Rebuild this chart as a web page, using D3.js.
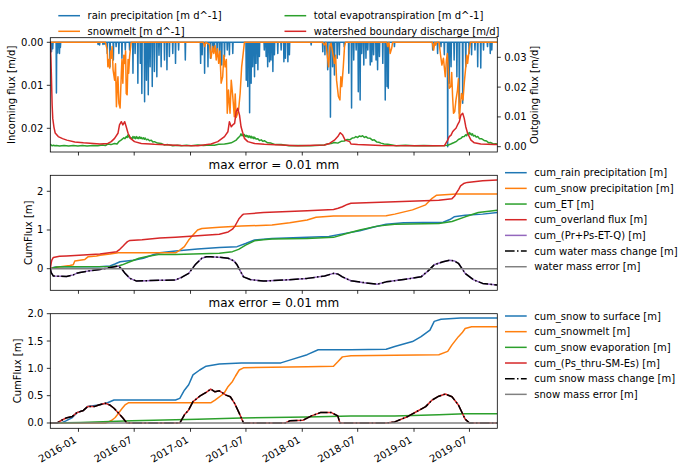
<!DOCTYPE html>
<html><head><meta charset="utf-8">
<script src="https://cdn.jsdelivr.net/npm/d3@7"></script>
<style>body{margin:0;background:#fff}svg{display:block;font-family:"DejaVu Sans",sans-serif}</style>
</head><body><svg id="c" width="687" height="472"></svg>
<script>
// day offsets from 2015-10-01
const startDate = "2015-10-01", endDay = 1460;
const rainEvents = [[4,0.0022],[8,0.0015],[20,0.0118],[24,0.0025],[30,0.0026],[33,0.0012],[156,0.0005],[161,0.0006],[172,0.0005],[177,0.0004],[186,0.0026],[195,0.0057],[206,0.0041],[215,0.001],[224,0.0026],[234,0.0037],[245,0.0018],[259,0.0018],[270,0.0072],[277,0.0026],[286,0.0095],[294,0.0049],[299,0.0119],[308,0.0138],[314,0.0088],[320,0.0122],[326,0.0057],[333,0.0103],[340,0.0068],[348,0.008],[355,0.003],[362,0.0057],[373,0.0041],[381,0.0064],[389,0.0033],[400,0.0026],[409,0.0049],[419,0.0018],[441,0.0041],
[491,0.0049],[496,0.0029],[504,0.0072],[515,0.0057],[523,0.0037],[531,0.0022],[536,0.0018],[545,0.0029],[553,0.0041],[560,0.0053],[569,0.0033],[578,0.0018],[585,0.0029],[596,0.0026],[640,0.0088],[645,0.0103],[651,0.0164],[656,0.0095],[661,0.0057],[667,0.008],[672,0.0049],[678,0.0064],[683,0.0033],[699,0.0018],[705,0.0033],[710,0.0057],[716,0.0045],[721,0.0041],[727,0.0068],[732,0.0029],[743,0.0026],[754,0.0018],[763,0.0045],[768,0.0037],[776,0.0045],[781,0.0029],[852,0.0006],[890,0.0022],[897,0.0029],[906,0.0064],[915,0.0174],[922,0.0057],[928,0.0076],[937,0.0037],[944,0.0029],[960,0.001],
[975,0.0072],[984,0.0153],[991,0.0041],[999,0.0018],[1006,0.0115],[1012,0.0134],[1017,0.0026],[1024,0.0053],[1031,0.0037],[1037,0.0018],[1045,0.0053],[1050,0.0045],[1056,0.0029],[1064,0.0041],[1069,0.0064],[1075,0.0033],[1086,0.0049],[1094,0.0134],[1100,0.0103],[1104,0.0107],[1124,0.001],[1249,0.0018],[1256,0.0006],[1265,0.0026],[1276,0.001],[1287,0.0029],[1298,0.0243],[1303,0.0095],[1309,0.0057],[1319,0.0041],[1328,0.008],[1336,0.0165],[1347,0.0142],[1357,0.0057],[1368,0.0026],[1376,0.0029],[1387,0.0018],[1396,0.0057],[1406,0.006],[1415,0.0018],[1428,0.001],[1437,0.0026],[1442,0.0018]];
const snowmeltFlux = [[0,0],[180,0],[186,0.0018],[188,0.0057],[191,0.004],[194,0.006],[197,0.002],[199,0.0037],[202,0.001],[205,0.0064],[210,0.0088],[213,0.005],[216,0.015],[219,0.0095],[221,0.008],[224,0.0142],[228,0.0153],[232,0.0072],[234,0.004],[237,0.0095],[240,0.003],[243,0.0049],[246,0.002],[248,0.0119],[251,0.0122],[254,0.004],[256,0.0072],[259,0.0033],[264,0],
[500,0],[504,0.001],[508,0],[520,0.0005],[525,0.0037],[530,0.001],[534,0.0026],[538,0.0008],[542,0.0041],[546,0.0015],[550,0.0049],[554,0.002],[558,0.0095],[563,0.008],[567,0.003],[571,0.0057],[575,0.004],[578,0.0165],[582,0.0111],[587,0.0165],[591,0.0088],[596,0.0126],[601,0.0173],[604,0.012],[607,0.0175],[610,0.0169],[615,0.0157],[620,0.0119],[625,0.0057],[630,0.0026],[634,0],
[890,0],[895,0.0006],[900,0],[904,0.0026],[909,0.0057],[913,0.001],[917,0.0002],[922,0.0022],[928,0.0049],[932,0.003],[935,0.0088],[941,0.0126],[946,0.0134],[949,0.008],[952,0.0103],[957,0.0057],[961,0.001],[964,0],
[1099,0],[1102,0.001],[1106,0],[1110,0.0026],[1115,0.0014],[1118,0],
[1248,0],[1252,0.0018],[1256,0],[1259,0.0006],[1262,0],[1270,0],[1274,0.0026],[1279,0.0053],[1284,0.0037],[1290,0.008],[1294,0.004],[1297,0.0026],[1303,0.0107],[1308,0.0103],[1311,0.007],[1314,0.0126],[1317,0.0165],[1321,0.0161],[1325,0.0134],[1330,0.0111],[1333,0.0085],[1336,0.0177],[1339,0.015],[1343,0.0119],[1348,0.0134],[1352,0.0095],[1357,0.0057],[1360,0.003],[1363,0.0049],[1368,0.0018],[1372,0],[1460,0]];
const etFlux = [[0,0.0009],[3,0.0005],[6,0.0003],[10,0.0005],[15,0.0003],[20,0.0004],[30,0.0002],[45,0.0004],[60,0.0002],[75,0.0004],[90,0.0002],[105,0.0004],[120,0.0002],[140,0.0004],[155,0.0003],[170,0.0006],[180,0.0004],[188,0.0009],[198,0.0007],[210,0.0011],[218,0.0009],[225,0.0018],[231,0.0022],[236,0.0026],[240,0.003],[244,0.0027],[248,0.0034],[251,0.0031],[253,0.0039],[256,0.0033],[258,0.0036],[261,0.0028],[264,0.003],[267,0.0026],[270,0.0034],[273,0.0029],[275,0.0033],[278,0.0027],[281,0.0034],[284,0.0028],[286,0.0032],[289,0.0027],[292,0.0033],[295,0.0028],[297,0.0031],[300,0.0026],[304,0.003],[307,0.0025],[310,0.0029],[314,0.0023],[319,0.0025],[324,0.002],[330,0.0022],[335,0.0016],[340,0.0017],[350,0.0012],[362,0.0011],[372,0.0006],[384,0.0007],[400,0.0003],[415,0.0005],[428,0.0003],[445,0.0005],[460,0.0003],[482,0.0006],[500,0.0004],[520,0.0006],[536,0.0005],[550,0.0008],[569,0.0009],[580,0.0011],[591,0.0013],[600,0.0018],[607,0.0022],[612,0.0028],[618,0.0034],[621,0.0038],[623,0.0043],[626,0.0037],[629,0.004],[631,0.0035],[634,0.0041],[637,0.0034],[640,0.0038],[643,0.0033],[645,0.0037],[648,0.0031],[651,0.0036],[654,0.003],[656,0.0035],[659,0.0029],[662,0.0033],[665,0.0027],[667,0.0032],[672,0.0026],[678,0.0027],[683,0.0021],[689,0.0023],[694,0.0018],[699,0.002],[710,0.0013],[721,0.0012],[735,0.0007],[754,0.0007],[780,0.0003],[808,0.0004],[850,0.0003],[880,0.0005],[895,0.0006],[905,0.0009],[917,0.0011],[928,0.0014],[939,0.0012],[950,0.0018],[960,0.0019],[970,0.0024],[978,0.0023],[986,0.0029],[993,0.003],[998,0.0034],[1004,0.0031],[1009,0.0036],[1015,0.0034],[1020,0.0037],[1026,0.0031],[1031,0.0034],[1037,0.0029],[1045,0.0028],[1052,0.0022],[1058,0.0023],[1066,0.0016],[1073,0.0015],[1080,0.0012],[1090,0.0009],[1102,0.0008],[1130,0.0003],[1160,0.0005],[1189,0.0003],[1220,0.0004],[1250,0.0003],[1287,0.0004],[1298,0.0005],[1308,0.0009],[1319,0.0014],[1327,0.0018],[1333,0.0024],[1341,0.0028],[1346,0.0033],[1352,0.0034],[1357,0.004],[1360,0.0037],[1363,0.0044],[1366,0.0041],[1368,0.0048],[1371,0.0042],[1373,0.0045],[1376,0.0039],[1379,0.0043],[1382,0.0036],[1387,0.0038],[1391,0.0032],[1396,0.0034],[1402,0.0027],[1408,0.0027],[1417,0.0021],[1425,0.0019],[1432,0.0013],[1439,0.0014],[1447,0.0009],[1455,0.001],[1460,0.0008]];
const dischargeFlux = [[0,0.0352],[2,0.03],[4,0.022],[6,0.014],[8,0.0095],[12,0.0065],[16,0.0046],[26,0.0034],[40,0.0027],[54,0.0022],[80,0.0016],[108,0.0013],[162,0.0009],[188,0.0011],[199,0.0017],[210,0.0028],[221,0.0045],[226,0.0073],[232,0.0084],[237,0.0073],[243,0.0084],[248,0.0067],[254,0.0045],[262,0.0028],[275,0.0017],[297,0.0011],[340,0.0008],[428,0.0004],[482,0.0003],[525,0.0009],[547,0.0017],[569,0.0034],[580,0.005],[585,0.0084],[591,0.0067],[596,0.0073],[602,0.0078],[607,0.0117],[612,0.0129],[618,0.0106],[623,0.0067],[629,0.0045],[634,0.0028],[645,0.0017],[667,0.0011],[699,0.0008],[808,0.0003],[895,0.0006],[912,0.0011],[928,0.0022],[939,0.0034],[947,0.0047],[955,0.0039],[963,0.0022],[978,0.0017],[982,0.0009],[1004,0.0007],[1080,0.0004],[1189,0.0003],[1287,0.0003],[1298,0.0022],[1303,0.0034],[1309,0.0039],[1314,0.005],[1319,0.0056],[1325,0.0062],[1330,0.0073],[1336,0.0084],[1341,0.0106],[1347,0.0112],[1352,0.0095],[1357,0.0067],[1363,0.0045],[1374,0.0022],[1385,0.0013],[1406,0.0009],[1450,0.0007],[1460,0.0007]];

const cumRain = [[0,0],[10,0.03],[21,0.05],[160,0.05],[195,0.07],[211,0.12],[228,0.18],[271,0.22],[304,0.27],[336,0.36],[358,0.41],[409,0.46],[481,0.51],[552,0.55],[610,0.57],[638,0.65],[667,0.74],[724,0.78],[839,0.81],[910,0.83],[954,0.9],[1011,0.98],[1054,1.07],[1097,1.15],[1154,1.19],[1283,1.2],[1305,1.27],[1319,1.34],[1355,1.38],[1412,1.41],[1460,1.45]];
const cumSnowP = [[0,0],[10,0.02],[21,0.035],[64,0.08],[75,0.1],[80,0.2],[113,0.24],[124,0.31],[151,0.33],[162,0.35],[195,0.38],[222,0.41],[409,0.41],[423,0.48],[438,0.57],[452,0.74],[466,0.87],[481,1.0],[495,1.04],[552,1.07],[624,1.1],[724,1.13],[782,1.19],[839,1.26],[868,1.33],[925,1.36],[1097,1.37],[1125,1.41],[1183,1.52],[1226,1.65],[1247,1.82],[1262,1.9],[1326,1.93],[1460,1.93]];
const cumET = [[0,0],[15,0.03],[30,0.05],[200,0.06],[222,0.07],[235,0.1],[260,0.18],[290,0.27],[320,0.32],[358,0.37],[409,0.37],[552,0.4],[595,0.44],[615,0.5],[638,0.61],[667,0.72],[695,0.75],[724,0.77],[839,0.78],[925,0.81],[968,0.91],[1011,1.0],[1068,1.1],[1125,1.15],[1269,1.17],[1312,1.22],[1355,1.34],[1398,1.45],[1460,1.51]];
const cumOverland = [[0,0],[3,0.15],[5,0.22],[10,0.29],[30,0.32],[53,0.33],[162,0.38],[217,0.44],[227,0.5],[237,0.58],[244,0.64],[252,0.7],[260,0.73],[300,0.75],[358,0.79],[409,0.81],[481,0.85],[552,0.89],[581,0.95],[595,1.02],[603,1.1],[610,1.2],[617,1.3],[625,1.37],[631,1.41],[696,1.45],[839,1.5],[925,1.53],[940,1.56],[954,1.6],[970,1.66],[982,1.69],[1126,1.73],[1269,1.77],[1312,1.81],[1320,1.87],[1326,1.95],[1334,2.05],[1340,2.14],[1350,2.2],[1362,2.23],[1412,2.27],[1460,2.29]];
const cumWaterChange = [[0,0],[3,-0.1],[10,-0.19],[53,-0.2],[75,-0.16],[86,-0.12],[97,-0.1],[130,-0.05],[162,-0.02],[195,0.03],[222,0.07],[233,0],[244,-0.12],[260,-0.25],[282,-0.32],[315,-0.31],[358,-0.3],[409,-0.29],[430,-0.22],[452,-0.12],[473,0.1],[495,0.27],[510,0.31],[524,0.31],[560,0.29],[581,0.27],[600,0.2],[610,0.1],[620,-0.05],[631,-0.21],[653,-0.28],[696,-0.32],[767,-0.29],[839,-0.25],[896,-0.19],[925,-0.12],[940,-0.14],[954,-0.21],[982,-0.31],[1025,-0.36],[1068,-0.4],[1097,-0.34],[1154,-0.28],[1211,-0.21],[1235,-0.05],[1254,0.1],[1283,0.18],[1305,0.22],[1320,0.2],[1333,0.14],[1345,0.0],[1355,-0.12],[1383,-0.29],[1412,-0.38],[1460,-0.42]];
const waterError = [[0,0],[1460,0]];

const cumSnowSurface = [[0,0],[36,0],[51,0.04],[72,0.1],[87,0.19],[108,0.23],[122,0.3],[158,0.33],[187,0.37],[208,0.42],[409,0.42],[423,0.45],[438,0.6],[452,0.7],[466,0.88],[488,0.97],[509,1.04],[552,1.08],[624,1.1],[753,1.1],[782,1.15],[839,1.25],[875,1.34],[982,1.34],[1097,1.35],[1125,1.4],[1183,1.49],[1211,1.58],[1240,1.7],[1254,1.86],[1276,1.9],[1340,1.92],[1460,1.92]];
const cumSnowmelt = [[0,0],[180,0],[190,0.02],[201,0.05],[212,0.1],[223,0.18],[235,0.27],[244,0.33],[255,0.37],[524,0.37],[538,0.42],[567,0.54],[581,0.67],[595,0.76],[605,0.86],[617,0.97],[631,1.01],[839,1.03],[925,1.04],[939,1.12],[954,1.21],[982,1.23],[1269,1.25],[1298,1.31],[1312,1.43],[1333,1.58],[1345,1.65],[1355,1.73],[1376,1.76],[1460,1.76]];
const cumSnowEvap = [[0,0],[100,0.01],[266,0.04],[481,0.07],[624,0.09],[839,0.11],[982,0.13],[1125,0.13],[1269,0.15],[1355,0.17],[1460,0.17]];
const cumSnowStore = [[0,0],[22,0],[37,0.05],[51,0.09],[72,0.12],[87,0.19],[108,0.23],[122,0.3],[144,0.3],[158,0.33],[180,0.36],[194,0.33],[208,0.27],[223,0.18],[237,0.09],[250,0],[423,0],[438,0.15],[452,0.24],[466,0.39],[488,0.49],[509,0.56],[524,0.62],[538,0.57],[552,0.59],[574,0.51],[588,0.48],[602,0.36],[617,0.18],[631,0],[767,0],[782,0.04],[825,0.05],[853,0.13],[882,0.19],[918,0.19],[939,0.13],[946,0],[1097,0],[1125,0.02],[1168,0.12],[1197,0.21],[1226,0.3],[1247,0.42],[1269,0.49],[1290,0.53],[1312,0.48],[1333,0.33],[1355,0.07],[1369,0],[1460,0]];
const snowError = [[0,0],[1460,0]];

const legendTop = ["rain precipitation [m d^-1]","snowmelt [m d^-1]","total evapotranspiration [m d^-1]","watershed boundary discharge [m/d]"];
const legendMid = ["cum_rain precipitation [m]","cum_snow precipitation [m]","cum_ET [m]","cum_overland flux [m]","cum_(Pr+Ps-ET-Q) [m]","cum water mass change [m]","water mass error [m]"];
const legendBot = ["cum_snow to surface [m]","cum_snowmelt [m]","cum_snow evaporation [m]","cum_(Ps_thru-SM-Es) [m]","cum snow mass change [m]","snow mass error [m]"];
const titleText = "max error = 0.01 mm";

const C = {blue:"#1f77b4",orange:"#ff7f0e",green:"#2ca02c",red:"#d62728",purple:"#9467bd",gray:"#808080",black:"#000"};
const svg = d3.select("#c");
svg.append("rect").attr("width",687).attr("height",472).attr("fill","#fff");
const t0 = new Date(startDate + "T00:00:00Z");
const day = d => d3.utcDay.offset(t0, d);
const L = 50.3, R = 497.3;
const x = d3.scaleUtc().domain([day(0), day(endDay)]).range([L, R]);
const panels = {top:[37.7,152], mid:[175.3,290.3], bot:[313.7,428.3]};

function daily(events){ const a = new Array(endDay+1).fill(0); events.forEach(([d,v])=>{a[d]=v;}); return a.map((v,i)=>[i,v]); }

function clip(id, p){ svg.append("clipPath").attr("id",id).append("rect").attr("x",L).attr("y",p[0]).attr("width",R-L).attr("height",p[1]-p[0]); }
function drawLine(g, data, y, color, dash){
  g.append("path").datum(data).attr("fill","none").attr("stroke",color).attr("stroke-width",1.5)
   .attr("stroke-linejoin","round").attr("stroke-dasharray",dash||null)
   .attr("d", d3.line().x(d=>x(day(d[0]))).y(d=>y(d[1])));
}
function frame(p){
  svg.append("rect").attr("x",L).attr("y",p[0]).attr("width",R-L).attr("height",p[1]-p[0]).attr("fill","none").attr("stroke","#000").attr("stroke-width",0.8);
}
function xTicks(p, labels){
  const ticks = x.ticks(d3.utcMonth.every(6));
  ticks.forEach(t=>{
    const tx = x(t);
    svg.append("line").attr("x1",tx).attr("x2",tx).attr("y1",p[1]).attr("y2",p[1]+3.5).attr("stroke","#000").attr("stroke-width",0.8);
    if(labels){
      svg.append("text").attr("transform",`translate(${tx-1.15},${p[1]+7+6.6}) rotate(-30)`).attr("text-anchor","end")
        .attr("font-size",10).attr("fill","#000").text(d3.utcFormat("%Y-%m")(t));
    }
  });
}
function yTicks(y, vals, fmt, side){
  vals.forEach(v=>{
    const ty = y(v);
    const x0 = side==="right"? R : L;
    const dir = side==="right"? 1 : -1;
    svg.append("line").attr("x1",x0).attr("x2",x0+dir*3.5).attr("y1",ty).attr("y2",ty).attr("stroke","#000").attr("stroke-width",0.8);
    svg.append("text").attr("x",x0+dir*7).attr("y",ty).attr("dy","0.35em").attr("text-anchor",side==="right"?"start":"end")
      .attr("font-size",10).attr("fill","#000").text(fmt(v));
  });
}
function yLabel(txt, cx, p){
  svg.append("text").attr("transform",`translate(${cx},${(p[0]+p[1])/2}) rotate(-90)`).attr("text-anchor","middle")
    .attr("dy","0.35em").attr("font-size",10).attr("fill","#000").text(txt);
}
function legend(items, x0, y0, dy){
  items.forEach((it,i)=>{
    const yy = y0 + i*dy;
    svg.append("line").attr("x1",x0).attr("x2",x0+21.7).attr("y1",yy).attr("y2",yy).attr("stroke",it.color).attr("stroke-width",1.5).attr("stroke-dasharray",it.dash||null);
    svg.append("text").attr("x",x0+29.3).attr("y",yy).attr("dy","0.35em").attr("font-size",10).attr("fill","#000").text(it.label);
  });
}
function title(p){
  svg.append("text").attr("x",(L+R)/2).attr("y",p[0]-6.3).attr("text-anchor","middle").attr("font-size",12).attr("fill","#000").text(titleText);
}
const dashDot = "9.6,2.4,1.5,2.4";

// ---- top panel
{
  const p = panels.top; clip("cTop", p);
  const yl = d3.scaleLinear().domain([-0.00107, 0.02551]).range([p[0], p[1]]);
  const yr = d3.scaleLinear().domain([-0.00178, 0.03658]).range([p[1], p[0]]);
  const g = svg.append("g").attr("clip-path","url(#cTop)");
  drawLine(g, daily(rainEvents), yl, C.blue);
  drawLine(g, snowmeltFlux, yl, C.orange);
  drawLine(g, etFlux, yr, C.green);
  drawLine(g, dischargeFlux, yr, C.red);
  frame(p); xTicks(p,false);
  yTicks(yl,[0,0.01,0.02],d3.format(".2f"),"left");
  yTicks(yr,[0,0.01,0.02,0.03],d3.format(".2f"),"right");
  yLabel("Incoming flux [m/d]", 11.7, p);
  yLabel("Outgoing flux [m/d]", 534.3, p);
  legend([{label:legendTop[0],color:C.blue},{label:legendTop[1],color:C.orange}], 58.3, 15.7, 15.6);
  legend([{label:legendTop[2],color:C.green},{label:legendTop[3],color:C.red}], 284.5, 15.7, 15.6);
}
// ---- middle panel
{
  const p = panels.mid; clip("cMid", p);
  const y = d3.scaleLinear().domain([-0.558, 2.413]).range([p[1], p[0]]);
  const g = svg.append("g").attr("clip-path","url(#cMid)");
  drawLine(g, cumRain, y, C.blue);
  drawLine(g, cumSnowP, y, C.orange);
  drawLine(g, cumET, y, C.green);
  drawLine(g, cumOverland, y, C.red);
  drawLine(g, cumWaterChange, y, C.purple);
  drawLine(g, cumWaterChange, y, C.black, dashDot);
  drawLine(g, waterError, y, C.gray);
  frame(p); xTicks(p,false);
  yTicks(y,[0,1,2],d3.format("d"),"left");
  yLabel("CumFlux [m]", 28.3, p);
  title(p);
  const cols=[C.blue,C.orange,C.green,C.red,C.purple,C.black,C.gray];
  legend(legendMid.map((l,i)=>({label:l,color:cols[i],dash:i===5?dashDot:null})), 505, 172.7, 15.67);
}
// ---- bottom panel
{
  const p = panels.bot; clip("cBot", p);
  const y = d3.scaleLinear().domain([-0.097, 2.0]).range([p[1], p[0]]);
  const g = svg.append("g").attr("clip-path","url(#cBot)");
  drawLine(g, cumSnowSurface, y, C.blue);
  drawLine(g, cumSnowmelt, y, C.orange);
  drawLine(g, cumSnowEvap, y, C.green);
  drawLine(g, cumSnowStore, y, C.red);
  drawLine(g, cumSnowStore, y, C.black, dashDot);
  drawLine(g, snowError, y, C.gray);
  frame(p); xTicks(p,true);
  yTicks(y,[0,0.5,1,1.5,2],d3.format(".1f"),"left");
  yLabel("CumFlux [m]", 17.3, p);
  title(p);
  const cols=[C.blue,C.orange,C.green,C.red,C.black,C.gray];
  legend(legendBot.map((l,i)=>({label:l,color:cols[i],dash:i===4?dashDot:null})), 505, 316, 15.67);
}
</script></body></html>
